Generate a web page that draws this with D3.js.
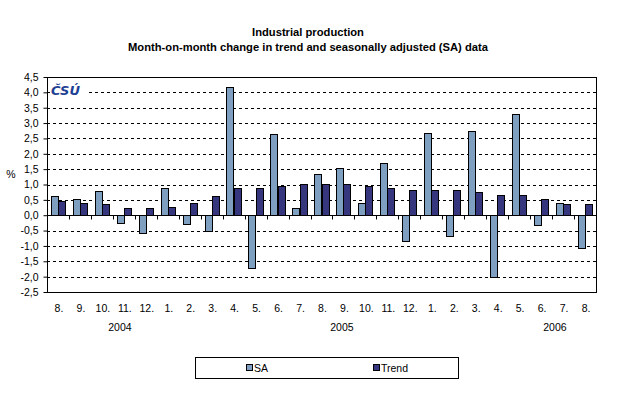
<!DOCTYPE html>
<html>
  <head>
    <title>Industrial production</title>
    <script src="https://d3js.org/d3.v7.min.js"></script>
    <style>
      body { margin: 0; background: #fff; }
      text { font-family: "Liberation Sans", Arial, sans-serif; fill: #000; }
      .title { font-size: 11.2px; font-weight: bold; }
      .tick-label { font-size: 10.5px; }
      .legend text { font-size: 10.5px; }
    </style>
  </head>
  <body>
    <svg width="618" height="397"></svg>
    <script>
      const months = ["8.", "9.", "10.", "11.", "12.", "1.", "2.", "3.", "4.", "5.", "6.", "7.", "8.",
                      "9.", "10.", "11.", "12.", "1.", "2.", "3.", "4.", "5.", "6.", "7.", "8."];
      const saValues = [0.64, 0.54, 0.80, -0.24, -0.59, 0.87, -0.27, -0.53, 4.18, -1.71, 2.65, 0.25, 1.35,
                        1.55, 0.41, 1.71, -0.85, 2.68, -0.69, 2.75, -2.02, 3.30, -0.33, 0.41, -1.08];
      const trendValues = [0.45, 0.41, 0.35, 0.22, 0.22, 0.28, 0.41, 0.64, 0.87, 0.90, 0.96, 1.03, 1.03,
                           1.03, 0.96, 0.90, 0.83, 0.83, 0.83, 0.74, 0.67, 0.67, 0.54, 0.38, 0.38];
      const years = ["2004", "2005", "2006"];
      const yearPositions = [3.32, 13.43, 23.13];   // in category units from the left edge
      const yTicks = [4.5, 4, 3.5, 3, 2.5, 2, 1.5, 1, 0.5, 0, -0.5, -1, -1.5, -2, -2.5];
      const seriesNames = ["SA", "Trend"];

      const colors = { SA: "#7f9fc1", Trend: "#36367e" };
      const margin = { left: 47, right: 596, top: 77, bottom: 292 };

      const svg = d3.select("svg");

      const x = d3.scaleBand()
        .domain(d3.range(months.length))
        .range([margin.left, margin.right]);
      const xPos = d3.scaleLinear()
        .domain([0, months.length])
        .range([margin.left, margin.right]);
      const xSeries = d3.scaleBand()
        .domain(seriesNames)
        .range([0, x.bandwidth()])
        .paddingOuter(0.525);
      const y = d3.scaleLinear()
        .domain([-2.5, 4.5])
        .range([margin.bottom, margin.top]);

      const fmt = v => d3.format(".1f")(v).replace(".", ",").replace("−", "-");

      // title
      svg.append("text").attr("class", "title")
        .attr("x", 308).attr("y", 36).attr("text-anchor", "middle")
        .text("Industrial production");
      svg.append("text").attr("class", "title")
        .attr("x", 308).attr("y", 51).attr("text-anchor", "middle")
        .text("Month-on-month change in trend and seasonally adjusted (SA) data");

      // gridlines
      svg.append("g")
        .selectAll("line")
        .data(yTicks.filter(d => d !== 0 && d !== 4.5))
        .enter().append("line")
          .attr("x1", margin.left).attr("x2", margin.right)
          .attr("y1", d => Math.round(y(d)) + 0.5).attr("y2", d => Math.round(y(d)) + 0.5)
          .attr("stroke", "#000")
          .attr("stroke-dasharray", "3,3");

      // logo
      svg.append("rect")
        .attr("x", 50).attr("y", 83).attr("width", 38).attr("height", 13)
        .attr("fill", "#fff");
      svg.append("text")
        .attr("x", 51).attr("y", 95)
        .style("font-family", "'DejaVu Sans', sans-serif")
        .style("font-size", "13px")
        .style("font-weight", "bold")
        .style("font-style", "italic")
        .style("fill", "#1f3f93")
        .text("ČSÚ");

      // bars
      const rows = months.map((m, i) => ({ i, SA: saValues[i], Trend: trendValues[i] }));
      const barG = svg.append("g");
      seriesNames.forEach(name => {
        barG.selectAll(".bar-" + name)
          .data(rows)
          .enter().append("rect")
            .attr("class", "bar-" + name)
            .attr("x", d => Math.round(x(d.i) + xSeries(name)) + 0.5)
            .attr("y", d => Math.round(y(Math.max(0, d[name]))) + 0.5)
            .attr("width", Math.round(xSeries.bandwidth()))
            .attr("height", d => Math.abs(Math.round(y(d[name])) - Math.round(y(0))))
            .attr("fill", colors[name])
            .attr("stroke", "#000")
            .attr("stroke-width", 1);
      });

      // zero line with category ticks
      const zeroY = Math.round(y(0)) + 0.5;
      svg.append("line")
        .attr("x1", margin.left).attr("x2", margin.right)
        .attr("y1", zeroY).attr("y2", zeroY)
        .attr("stroke", "#000");
      svg.append("g")
        .selectAll("line")
        .data(d3.range(months.length + 1))
        .enter().append("line")
          .attr("x1", d => Math.round(xPos(d)) + 0.5).attr("x2", d => Math.round(xPos(d)) + 0.5)
          .attr("y1", zeroY).attr("y2", zeroY + 4)
          .attr("stroke", "#000");

      // plot border
      svg.append("rect")
        .attr("x", margin.left + 0.5).attr("y", margin.top + 0.5)
        .attr("width", margin.right - margin.left).attr("height", margin.bottom - margin.top)
        .attr("fill", "none")
        .attr("stroke", "#000");

      // y axis
      const yAxisG = svg.append("g")
        .attr("transform", `translate(${margin.left + 0.5},0)`)
        .call(d3.axisLeft(y).tickValues(yTicks).tickSize(4).tickPadding(5).tickFormat(fmt));
      yAxisG.select(".domain").remove();
      yAxisG.selectAll(".tick line").attr("stroke", "#000");
      yAxisG.selectAll(".tick text")
        .attr("class", "tick-label")
        .style("font-family", null).style("font-size", null)
        .attr("fill", "#000");
      yAxisG.attr("font-family", null).attr("font-size", null);

      svg.append("text").attr("class", "tick-label")
        .attr("x", 11).attr("y", 178).attr("text-anchor", "middle")
        .text("%");

      // month labels
      svg.append("g")
        .selectAll("text")
        .data(months)
        .enter().append("text")
          .attr("class", "tick-label")
          .attr("x", (d, i) => x(i) + x.bandwidth() / 2 + 1)
          .attr("y", 312)
          .attr("text-anchor", "middle")
          .text(d => d);

      // year labels
      svg.append("g")
        .selectAll("text")
        .data(years)
        .enter().append("text")
          .attr("class", "tick-label")
          .attr("x", (d, i) => xPos(yearPositions[i]))
          .attr("y", 331)
          .attr("text-anchor", "middle")
          .text(d => d);

      // legend
      const legendG = svg.append("g").attr("class", "legend");
      legendG.append("rect")
        .attr("x", 195.5).attr("y", 357.5).attr("width", 263).attr("height", 21)
        .attr("fill", "#fff").attr("stroke", "#000");
      const legendX = d3.scalePoint().domain(seriesNames).range([246, 373]);
      const legendItem = legendG.selectAll(".item")
        .data(seriesNames)
        .enter().append("g")
          .attr("class", "item")
          .attr("transform", d => `translate(${legendX(d)}, 368)`);
      legendItem.append("rect")
        .attr("x", 0.5).attr("y", -3.5).attr("width", 6).attr("height", 6)
        .attr("fill", d => colors[d]).attr("stroke", "#000");
      legendItem.append("text")
        .attr("x", 8).attr("y", 4)
        .text(d => d);
    </script>
  </body>
</html>
